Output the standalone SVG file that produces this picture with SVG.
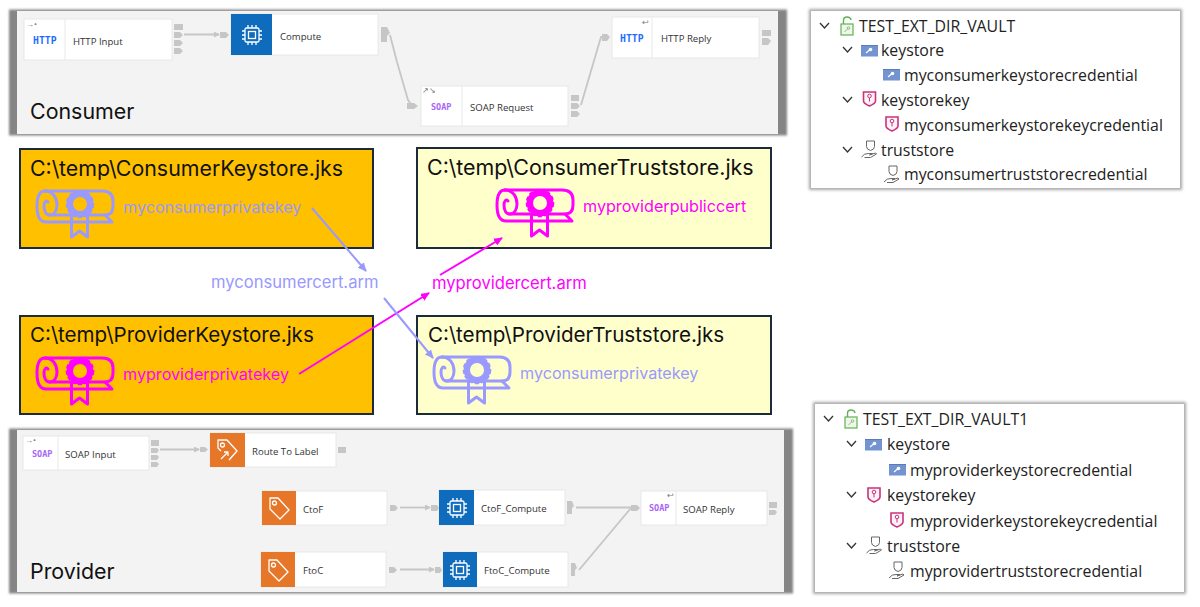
<svg xmlns="http://www.w3.org/2000/svg" width="1200" height="607" viewBox="0 0 1200 607">
<style>
text{font-family:"Open Sans","Noto Sans","Liberation Sans",sans-serif}
.bg{fill:#fff}
.shadow{fill:#858585;filter:url(#soft)}
.shadow2{fill:#a8a8a8;filter:url(#soft2)}
.panel{fill:#f3f3f3}
.title{font-family:"Inter","Liberation Sans",sans-serif;font-size:21.4px;fill:#111}
.node{fill:#fff;stroke:#e8e8e8;stroke-width:1}
.div{stroke:#e8e8e8;stroke-width:1}
.lbl{font-size:9.6px;fill:#333}
.http{font-family:"DejaVu Sans Mono",monospace;font-size:9.8px;font-weight:bold;fill:#1f6bff}
.soap{font-family:"DejaVu Sans Mono",monospace;font-size:8.5px;font-weight:bold;fill:#a866fa}
.blue{fill:#0f6cbd}
.orange{fill:#e67628}
.port{fill:#c6c6c6}
.wire{stroke:#c6c6c6;stroke-width:1.8;fill:none}
.box{stroke:#1c2b39;stroke-width:2}
.ks{fill:#ffc000}
.ts{fill:#ffffcc}
.head{font-family:"Inter","Liberation Sans",sans-serif;fill:#111}
.cert{font-family:"Inter","Liberation Sans",sans-serif;font-size:16.15px}
.arm{font-family:"Inter","Liberation Sans",sans-serif;font-size:16.6px}
.c1{fill:#9999ff;color:#9999ff}
.c2{fill:#ff00ff;color:#ff00ff}
.tree{fill:#fff}
.t{font-size:15.85px;fill:#222}
.chev{fill:none;stroke:#333;stroke-width:1.3}
.a1{stroke:#9999ff;stroke-width:2;fill:none;marker-end:url(#m1)}
.a2{stroke:#ff00ff;stroke-width:2;fill:none;marker-end:url(#m2)}
.ic{font-size:8px;fill:#777}
</style>
<defs>
<filter id="soft" x="-3%" y="-5%" width="106%" height="110%"><feGaussianBlur stdDeviation="1"/></filter>
<filter id="soft2" x="-3%" y="-5%" width="106%" height="110%"><feGaussianBlur stdDeviation="1.4"/></filter>
<marker id="m1" markerWidth="9" markerHeight="8" refX="8" refY="4" orient="auto" markerUnits="userSpaceOnUse"><path d="M0 0L9 4L0 8Z" fill="#9999ff"/></marker>
<marker id="m2" markerWidth="9" markerHeight="8" refX="8" refY="4" orient="auto" markerUnits="userSpaceOnUse"><path d="M0 0L9 4L0 8Z" fill="#ff00ff"/></marker>
<marker id="mw" markerWidth="6" markerHeight="6" refX="5" refY="3" orient="auto" markerUnits="userSpaceOnUse"><path d="M0 0L6 3L0 6Z" fill="#c6c6c6"/></marker>
<symbol id="certi" overflow="visible">
<g fill="none" stroke="currentColor" stroke-width="3" stroke-linecap="round" stroke-linejoin="round">
<path d="M8 2H65Q76 2 76 12V17Q76 26 68 26H13"/>
<path d="M8 2C2 2 0 9 0 17C0 27 3 33 9 33H75L68 26"/>
<path d="M8 2C16 2 20 9 20 16C20 22 17 26 13 26C9 26 7 22 7 17C7 13 9 11 11 13"/>
<path d="M34.500 27V48L42.500 42L50.500 48V27" stroke-linecap="butt"/>
</g>
<circle cx="43" cy="15" r="10.2" fill="none" stroke="currentColor" stroke-width="6.4"/>
<circle cx="43" cy="15" r="13.500" fill="none" stroke="currentColor" stroke-width="1.6" stroke-dasharray="4 2.400"/>
</symbol>
<symbol id="chip" overflow="visible">
<g fill="none" stroke="#fff" stroke-width="1.3">
<rect x="-7" y="-7" width="14" height="14" rx="1.5"/>
<rect x="-3.5" y="-3.5" width="7" height="7"/>
<path d="M-4 -7V-10M0 -7V-10M4 -7V-10M-4 7V10M0 7V10M4 7V10M-7 -4H-10M-7 0H-10M-7 4H-10M7 -4H10M7 0H10M7 4H10"/>
</g>
</symbol>
<symbol id="tag" overflow="visible">
<g fill="none" stroke="#fff" stroke-width="1.3" stroke-linejoin="round">
<path d="M-9 -10H-1L10 2L1 11L-9 1Z"/>
<circle cx="-4.5" cy="-5" r="2"/>
</g>
</symbol>
<symbol id="tagr" overflow="visible">
<g fill="none" stroke="#fff" stroke-width="1.3" stroke-linejoin="round">
<path d="M-6 1L-9 -2V-10H0L10 1L2 10"/>
<circle cx="-4.5" cy="-5" r="2"/>
<path d="M-6 9L1 2M-3 2H1V6"/>
</g>
</symbol>
<symbol id="pk" overflow="visible"><rect x="0" y="0" width="17" height="11.500" fill="#7394d0"/><rect x="0" y="0" width="17" height="1" fill="#5a7cbc"/><path d="M5 8L8.500 5" stroke="#fff" stroke-width="1.2"/><circle cx="9.5" cy="4.5" r="1.8" fill="#fff"/></symbol>
<symbol id="ps" overflow="visible"><path d="M1 1H13V10Q13 12.500 7 15Q1 12.500 1 10Z" fill="#fdf2f7" stroke="#c9337a" stroke-width="1.6"/><circle cx="7" cy="5" r="1.8" fill="none" stroke="#c9337a"/><path d="M7 7V10.500" stroke="#c9337a"/></symbol>
<symbol id="pt" overflow="visible"><path d="M5 1H13V6.500Q13 9.500 9 10.500Q5 9.500 5 6.500Z" fill="none" stroke="#666" stroke-width="1"/><path d="M0 17Q3 13 7 13.500H11L8 15L14 13L15 14L9 17.500H3" fill="none" stroke="#666" stroke-width="1"/></symbol>
<symbol id="lock" overflow="visible"><rect x="0" y="6" width="12" height="11" fill="#eef7ea" stroke="#62b152" stroke-width="1.2"/><path d="M2.500 6V2.500Q2.500 -1 6 -1Q9.500 -1 10 2" fill="none" stroke="#62b152" stroke-width="1.4"/><path d="M3.500 14L7 10.500" stroke="#8fbf85"/><circle cx="7.500" cy="10" r="1.300" fill="none" stroke="#8fbf85"/></symbol>
</defs>
<rect class="bg" width="1200" height="607"/>

<g id="consumer-panel">
<rect class="shadow" x="9" y="9.500" width="778" height="126"/>
<rect class="panel" x="17" y="11" width="761" height="123"/>
<text class="title" x="30" y="118.500">Consumer</text>
</g>
<g id="provider-panel">
<rect class="shadow" x="9" y="428.500" width="784" height="165"/>
<rect class="panel" x="17" y="430" width="767" height="162"/>
<text class="title" x="30" y="578.500">Provider</text>
</g>

<g id="http-input"><rect class="node" x="24" y="19" width="148" height="41"/><path class="div" d="M65 19V60"/><text class="ic" x="26" y="27">→•</text><text class="http" x="33" y="43.500">HTTP</text><text class="lbl" x="73" y="44.500">HTTP Input</text>
<rect class="port" x="174" y="24" width="9" height="6"/><path class="port" d="M174 32H180L183 35L180 38H174ZM174 40H180L183 43L180 46H174ZM174 48H180L183 51L180 54H174Z"/></g>
<g id="compute"><rect class="node" x="231" y="14" width="147" height="41"/><rect class="blue" x="231" y="14" width="41" height="41"/><use href="#chip" x="252" y="35"/><text class="lbl" x="280" y="39.500">Compute</text><path class="port" d="M220 32H226L229 35L226 38H220Z"/>
<path class="port" d="M381 27H387L390 33L387 36L387 42H381Z"/></g>
<g id="soap-request"><rect class="node" x="421" y="86" width="147" height="40"/><path class="div" d="M462 86V126"/><text class="ic" x="422" y="93" font-size="6">↗↘</text><text class="soap" x="431" y="110">SOAP</text><text class="lbl" x="470" y="111">SOAP Request</text>
<path class="port" d="M407 103H414L418 106L414 109H407Z"/><rect class="port" x="571" y="95" width="8" height="6"/><path class="port" d="M571 103H577L580 106L577 109H571ZM571 111H577L580 114L577 117H571Z"/></g>
<g id="http-reply"><rect class="node" x="612" y="17" width="147" height="41"/><path class="div" d="M652 17V58"/><text class="ic" x="642" y="25">↩</text><text class="http" x="620" y="42">HTTP</text><text class="lbl" x="661" y="42">HTTP Reply</text>
<path class="port" d="M602 34H607L610 37L607 41H602Z"/><rect class="port" x="762" y="30" width="9" height="6"/><path class="port" d="M762 38H768L771 41L768 45H762Z"/></g>

<g id="soap-input"><rect class="node" x="23" y="436" width="126" height="34"/><path class="div" d="M58 436V470"/><text class="ic" x="25" y="443">→•</text><text class="soap" x="32" y="457">SOAP</text><text class="lbl" x="65" y="458">SOAP Input</text>
<rect class="port" x="151" y="440" width="8" height="6"/><path class="port" d="M151 448H157L159 450L157 453H151ZM151 455H157L159 457L157 460H151ZM151 462H157L159 464L157 467H151Z"/></g>
<g id="route-to-label"><rect class="node" x="210" y="433" width="126" height="34"/><rect class="orange" x="210" y="433" width="35" height="34"/><use href="#tagr" x="227" y="450"/><text class="lbl" x="252" y="454.500">Route To Label</text><path class="port" d="M200 447H205L208 449.500L205 452H200Z"/><rect class="port" x="338" y="447" width="8" height="6"/></g>
<g id="ctof"><rect class="node" x="262" y="491" width="125" height="34"/><rect class="orange" x="262" y="491" width="34" height="34"/><use href="#tag" x="279" y="508"/><text class="lbl" x="303" y="512.500">CtoF</text><path class="port" d="M390 505H395L398 508L395 511H390Z"/></g>
<g id="ftoc"><rect class="node" x="261" y="552" width="125" height="35"/><rect class="orange" x="261" y="552" width="34" height="35"/><use href="#tag" x="278" y="570"/><text class="lbl" x="303" y="574">FtoC</text><path class="port" d="M389 567H394L397 570L394 573H389Z"/></g>
<g id="ctof-compute"><rect class="node" x="439" y="490" width="126" height="35"/><rect class="blue" x="439" y="490" width="35" height="35"/><use href="#chip" x="457" y="508"/><text class="lbl" x="481" y="512">CtoF_Compute</text><path class="port" d="M431 505H437L439 508L437 511H431Z"/><path class="port" d="M567 501H572L574 506L572 508L572 514H567Z"/></g>
<g id="ftoc-compute"><rect class="node" x="443" y="552" width="125" height="35"/><rect class="blue" x="443" y="552" width="34" height="35"/><use href="#chip" x="460" y="570"/><text class="lbl" x="484" y="574">FtoC_Compute</text><path class="port" d="M435 567H440L442 570L440 573H435Z"/><path class="port" d="M571 563H575L577 568L575 570L575 576H571Z"/></g>
<g id="soap-reply"><rect class="node" x="641" y="491" width="126" height="34"/><path class="div" d="M676 491V525"/><text class="ic" x="667" y="498">↩</text><text class="soap" x="649" y="511">SOAP</text><text class="lbl" x="683" y="513">SOAP Reply</text>
<path class="port" d="M631 505H637L640 508L637 511H631Z"/><rect class="port" x="769" y="502" width="8" height="6"/><path class="port" d="M769 510H775L777 512L775 515H769Z"/></g>

<g id="consumer-keystore"><rect class="box ks" x="20" y="149" width="353" height="99"/><text class="head" x="30" y="175.500" font-size="21.35">C:\temp\ConsumerKeystore.jks</text><use href="#certi" class="c1" x="37" y="189"/><text class="cert c1" x="123" y="213">myconsumerprivatekey</text></g>
<g id="provider-keystore"><rect class="box ks" x="20" y="316" width="353" height="98"/><text class="head" x="30" y="342" font-size="20.6">C:\temp\ProviderKeystore.jks</text><use href="#certi" class="c2" x="37" y="356"/><text class="cert c2" x="123" y="380">myproviderprivatekey</text></g>
<g id="consumer-truststore"><rect class="box ts" x="417" y="148" width="354" height="100"/><text class="head" x="427" y="175" font-size="21.45">C:\temp\ConsumerTruststore.jks</text><use href="#certi" class="c2" x="497" y="188"/><text class="cert c2" x="583" y="212" font-size="16.4">myproviderpubliccert</text></g>
<g id="provider-truststore"><rect class="box ts" x="417" y="316" width="354" height="98"/><text class="head" x="428" y="342" font-size="20.65">C:\temp\ProviderTruststore.jks</text><use href="#certi" class="c1" x="434" y="355"/><text class="cert c1" x="520" y="379">myconsumerprivatekey</text></g>
<g id="consumer-cert-label"><text class="arm c1" x="211" y="288">myconsumercert.arm</text></g>
<g id="provider-cert-label"><text class="arm c2" x="432" y="289" font-size="16.4">myprovidercert.arm</text></g>

<g id="connectors">
<path class="wire" marker-end="url(#mw)" d="M184 34.500H219"/>
<path class="wire" d="M390 35L397 62L408 100L411 104"/>
<path class="wire" d="M581 105L601 37L604 37"/>
<path class="wire" marker-end="url(#mw)" d="M160 449.500H199"/>
<path class="wire" marker-end="url(#mw)" d="M400 507.500H430"/>
<path class="wire" marker-end="url(#mw)" d="M400 569.500H434"/>
<path class="wire" d="M576 507.500H632"/>
<path class="wire" d="M579 570L631 508"/>
<path class="a1" d="M312 208L366 271"/>
<path class="a2" d="M299 374L429 293"/>
<path class="a2" d="M440 275L502 238"/>
<path class="a1" d="M384 298L433 358"/>
</g>

<g id="vault-consumer">
<rect class="shadow2" x="809" y="9" width="373" height="181"/><rect class="tree" x="811" y="11" width="369" height="177"/>
<path class="chev" d="M820 23L824.500 28L829 23M843 47L847.500 52L852 47M843 97L847.500 102L852 97M843 147L847.500 152L852 147"/>
<use href="#lock" x="841" y="18"/><text class="t" x="859" y="32">TEST_EXT_DIR_VAULT</text>
<use href="#pk" x="861" y="45"/><text class="t" x="881" y="56">keystore</text>
<use href="#pk" x="883" y="69"/><text class="t" x="904" y="81">myconsumerkeystorecredential</text>
<use href="#ps" x="862.500" y="91"/><text class="t" x="881" y="106">keystorekey</text>
<use href="#ps" x="885" y="116"/><text class="t" x="904" y="131">myconsumerkeystorekeycredential</text>
<use href="#pt" x="861.500" y="140"/><text class="t" x="881" y="156">truststore</text>
<use href="#pt" x="884" y="165"/><text class="t" x="904" y="180">myconsumertruststorecredential</text>
</g>
<g id="vault-provider">
<rect class="shadow2" x="813" y="402" width="373" height="192"/><rect class="tree" x="815" y="404" width="369" height="188"/>
<path class="chev" d="M824 416L828.500 421L833 416M847 441L851.500 446L856 441M847 492L851.500 497L856 492M847 543L851.500 548L856 543"/>
<use href="#lock" x="845" y="411"/><text class="t" x="863" y="425">TEST_EXT_DIR_VAULT1</text>
<use href="#pk" x="865" y="439"/><text class="t" x="887" y="450">keystore</text>
<use href="#pk" x="889" y="464"/><text class="t" x="910" y="476">myproviderkeystorecredential</text>
<use href="#ps" x="867" y="487"/><text class="t" x="887" y="501">keystorekey</text>
<use href="#ps" x="890" y="512"/><text class="t" x="910" y="527">myproviderkeystorekeycredential</text>
<use href="#pt" x="866.500" y="536"/><text class="t" x="887" y="552">truststore</text>
<use href="#pt" x="889" y="561"/><text class="t" x="910" y="577">myprovidertruststorecredential</text>
</g>
</svg>
